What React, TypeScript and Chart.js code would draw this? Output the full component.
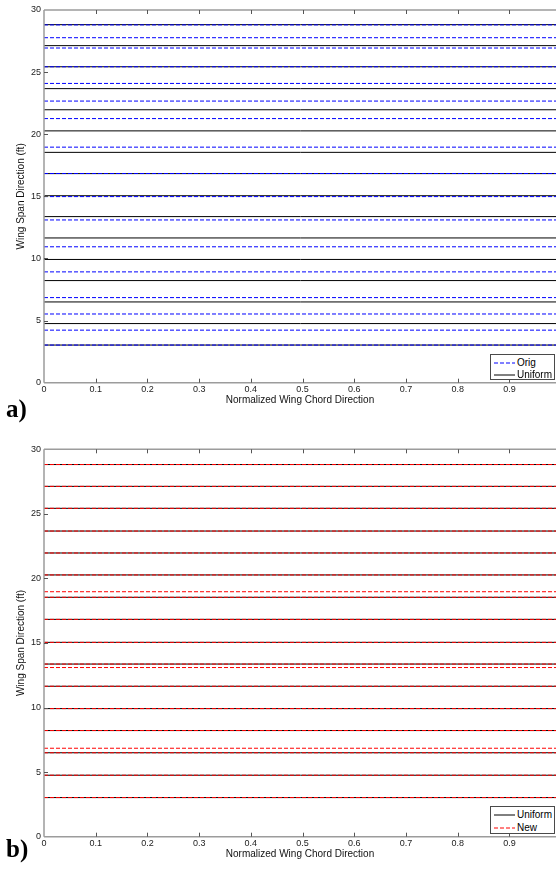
import React, { useEffect, useRef } from 'react';
import { Chart, registerables } from 'chart.js';

Chart.register(...registerables);

// Axis ticks
const xTickValues = [0, 0.1, 0.2, 0.3, 0.4, 0.5, 0.6, 0.7, 0.8, 0.9];
const yTickValues = [0, 5, 10, 15, 20, 25, 30];

// Spanwise station positions (ft)
const uniformStations = [3.03, 4.76, 6.5, 8.22, 9.92, 11.65, 13.37, 15.05, 16.83, 18.54, 20.27, 21.97, 23.67, 25.43, 27.13, 28.82];
const origStations = [3.03, 4.23, 5.53, 6.85, 8.92, 10.94, 13.1, 14.98, 16.84, 18.96, 21.26, 22.67, 24.09, 25.43, 26.94, 27.77, 28.8];
const newStations = [3.03, 4.76, 6.5, 6.85, 8.22, 9.92, 11.65, 13.1, 13.37, 15.05, 16.83, 18.54, 18.97, 20.27, 21.97, 23.67, 25.43, 27.13, 28.82];

const X_TITLE = 'Normalized Wing Chord Direction';
const Y_TITLE = 'Wing Span Direction (ft)';

const WIDTH = 556;
const AXIS_LEFT = 44;
const FONT = '"Liberation Sans", Arial, sans-serif';

type Series = { label: string; values: number[]; color: string; dash: number[] };

const BLUE = 'rgb(0,0,255)';
const RED = 'rgb(255,0,0)';
const BLACK = 'rgb(0,0,0)';

// Each station is a horizontal segment spanning the chord; null points split the segments.
function stationSegments(values: number[]) {
  const pts: { x: number; y: number | null }[] = [];
  values.forEach((v) => {
    pts.push({ x: 0, y: v }, { x: 1, y: v }, { x: 1, y: null });
  });
  return pts;
}

// Box frame with inward tick marks
const framePlugin = {
  id: 'frame',
  afterDraw(chart: any) {
    const { ctx, chartArea } = chart;
    const { left, right, top, bottom } = chartArea;
    const xs = chart.scales.x;
    const ys = chart.scales.y;
    ctx.save();
    ctx.strokeStyle = '#9c9c9c';
    ctx.lineWidth = 1.5;
    ctx.beginPath();
    ctx.moveTo(left, top);
    ctx.lineTo(left, bottom);
    ctx.moveTo(left, bottom);
    ctx.lineTo(right, bottom);
    ctx.moveTo(left, top);
    ctx.lineTo(right, top);
    ctx.stroke();
    ctx.strokeStyle = '#555';
    ctx.lineWidth = 1;
    ctx.beginPath();
    xTickValues.forEach((v) => {
      if (v === 0) return;
      const px = Math.round(xs.getPixelForValue(v)) + 0.5;
      ctx.moveTo(px, bottom);
      ctx.lineTo(px, bottom - 4);
      ctx.moveTo(px, top);
      ctx.lineTo(px, top + 4);
    });
    yTickValues.forEach((v) => {
      if (v === 0 || v === 30) return;
      const py = Math.round(ys.getPixelForValue(v)) + 0.5;
      ctx.moveTo(left, py);
      ctx.lineTo(left + 4, py);
    });
    ctx.stroke();
    ctx.restore();
  },
};

function LegendBox({ top, height, series }: { top: number; height: number; series: Series[] }) {
  const rowGap = height / 2;
  return (
    <div
      style={{
        position: 'absolute',
        left: 490,
        top,
        width: 65,
        height,
        boxSizing: 'border-box',
        border: '1px solid #4a4a4a',
        background: '#fff',
      }}
    >
      {series.map((s, i) => {
        const cy = rowGap * 0.6 + i * rowGap * 0.95;
        return (
          <div key={s.label}>
            <svg width={22} height={4} style={{ position: 'absolute', left: 3, top: cy - 2 }}>
              <line
                x1={0}
                y1={2}
                x2={21}
                y2={2}
                stroke={s.color}
                strokeWidth={1}
                strokeDasharray={s.dash.length ? s.dash.join(' ') : undefined}
              />
            </svg>
            <div
              style={{
                position: 'absolute',
                left: 26,
                top: cy - 6,
                height: 12,
                lineHeight: '12px',
                fontFamily: FONT,
                fontSize: 10,
                color: '#000',
                whiteSpace: 'nowrap',
              }}
            >
              {s.label}
            </div>
          </div>
        );
      })}
    </div>
  );
}

type PanelProps = {
  top: number;
  height: number;
  areaTop: number;
  areaBottom: number;
  drawSeries: Series[]; // first entry is drawn on top
  legendSeries: Series[];
  legendTop: number;
  legendHeight: number;
  tag: string;
  tagTop: number;
};

function Panel({ top, height, areaTop, areaBottom, drawSeries, legendSeries, legendTop, legendHeight, tag, tagTop }: PanelProps) {
  const ref = useRef<HTMLCanvasElement | null>(null);

  useEffect(() => {
    if (!ref.current) return;
    const xScaleHeight = height - areaBottom;
    const chart = new Chart(ref.current, {
      type: 'line',
      data: {
        datasets: drawSeries.map((s) => ({
          label: s.label,
          data: stationSegments(s.values) as any,
          borderColor: s.color,
          borderDash: s.dash,
          borderWidth: 1,
          pointRadius: 0,
          fill: false,
          tension: 0,
          spanGaps: false,
        })),
      },
      options: {
        responsive: false,
        animation: false,
        events: [],
        layout: { padding: { top: areaTop, left: 0, right: 0, bottom: 0 } },
        plugins: { legend: { display: false }, tooltip: { enabled: false } },
        scales: {
          x: {
            type: 'linear',
            position: 'bottom',
            min: 0,
            max: 0.99,
            afterBuildTicks: (s: any) => {
              s.ticks = xTickValues.map((value) => ({ value }));
            },
            afterFit: (s: any) => {
              s.height = xScaleHeight;
            },
            ticks: {
              autoSkip: false,
              maxRotation: 0,
              padding: 1,
              color: '#222',
              font: { family: FONT, size: 9 },
              callback: (v: any) => String(v),
            },
            grid: { display: false, drawTicks: false },
            border: { display: false },
            title: {
              display: true,
              text: X_TITLE,
              color: '#111',
              font: { family: FONT, size: 10 },
              padding: { top: 0, bottom: xScaleHeight - 18 - 6 },
            },
          },
          y: {
            type: 'linear',
            min: 0,
            max: 30,
            afterBuildTicks: (s: any) => {
              s.ticks = yTickValues.map((value) => ({ value }));
            },
            afterFit: (s: any) => {
              s.width = AXIS_LEFT;
            },
            ticks: {
              padding: 3,
              color: '#222',
              font: { family: FONT, size: 9 },
            },
            grid: { display: false, drawTicks: false },
            border: { display: false },
            title: {
              display: true,
              text: Y_TITLE,
              color: '#111',
              font: { family: FONT, size: 10 },
              padding: { top: 15, bottom: 0 },
            },
          },
        },
      },
      plugins: [framePlugin],
    });
    return () => chart.destroy();
  }, []);

  return (
    <div style={{ position: 'absolute', left: 0, top, width: WIDTH, height }}>
      <canvas ref={ref} width={WIDTH} height={height} style={{ display: 'block' }} />
      <LegendBox top={legendTop - top} height={legendHeight} series={legendSeries} />
      <div
        style={{
          position: 'absolute',
          left: 6,
          top: tagTop - top,
          fontFamily: '"Liberation Serif", "Times New Roman", serif',
          fontWeight: 'bold',
          fontSize: 25,
          lineHeight: '25px',
          color: '#000',
        }}
      >
        {tag}
      </div>
    </div>
  );
}

export default function App() {
  const orig: Series = { label: 'Orig', values: origStations, color: BLUE, dash: [4, 2] };
  const uniform: Series = { label: 'Uniform', values: uniformStations, color: BLACK, dash: [] };
  const fresh: Series = { label: 'New', values: newStations, color: RED, dash: [4, 2] };

  return (
    <div
      style={{
        position: 'absolute',
        left: 0,
        top: 0,
        width: WIDTH,
        height: 869,
        background: '#fff',
        overflow: 'hidden',
      }}
    >
      <Panel
        top={0}
        height={420}
        areaTop={10}
        areaBottom={382.7}
        drawSeries={[orig, uniform]}
        legendSeries={[orig, uniform]}
        legendTop={354}
        legendHeight={26}
        tag="a)"
        tagTop={396}
      />
      <Panel
        top={440}
        height={429}
        areaTop={9.3}
        areaBottom={396.7}
        drawSeries={[fresh, uniform]}
        legendSeries={[uniform, fresh]}
        legendTop={805.7}
        legendHeight={28}
        tag="b)"
        tagTop={836}
      />
    </div>
  );
}
